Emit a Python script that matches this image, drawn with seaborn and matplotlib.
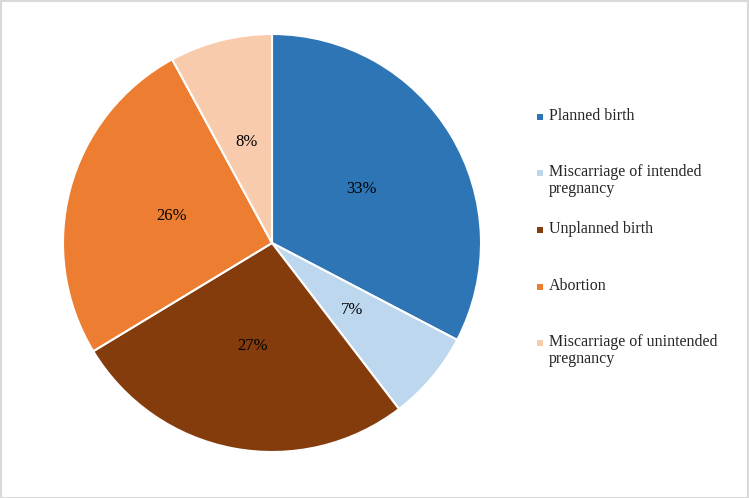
import seaborn as sns
import matplotlib.pyplot as plt
from matplotlib.patches import Rectangle

categories = ['Planned birth', 'Miscarriage of intended\npregnancy', 'Unplanned birth',
              'Abortion', 'Miscarriage of unintended\npregnancy']
shares = [33, 7, 27, 26, 8]
colors = ['#2E75B6', '#BDD7EE', '#843C0C', '#ED7D31', '#F8CBAD']

sns.set_theme(style='white')
plt.rcParams['font.family'] = ['Liberation Serif', 'DejaVu Serif']

W, H = 749, 498
fig = plt.figure(figsize=(W / 100, H / 100), dpi=100)
fig.patch.set_facecolor('white')

# pie centred at (272, 243) px, radius 209 px
cx, cy, r = 272, 243, 209
ax = fig.add_axes([(cx - r) / W, (H - cy - r) / H, 2 * r / W, 2 * r / H])
total = sum(shares)
wedges, texts, autotexts = ax.pie(
    shares, colors=colors, startangle=90, counterclock=False,
    autopct=lambda p: f'{p * total / 100:.0f}%', pctdistance=0.5,
    wedgeprops=dict(edgecolor='white', linewidth=1.5),
    textprops=dict(fontsize=12, color='#000000'))
ax.set_xlim(-1, 1)
ax.set_ylim(-1, 1)
ax.set_aspect('equal')
ax.axis('off')

# legend: marker aligned with first text line, evenly spaced slots
for i, (lab, col) in enumerate(zip(categories, colors)):
    y = 117 + i * 56.5
    fig.patches.append(Rectangle((537 / W, (H - y - 3) / H), 6 / W, 6 / H,
                                 transform=fig.transFigure, facecolor=col,
                                 edgecolor='none'))
    fig.text(549 / W, (H - y + 9) / H, lab, fontsize=11.5, va='top', ha='left',
             linespacing=1.05, transform=fig.transFigure)

# outer grey frame
fig.patches.append(Rectangle((0.5 / W, 0.5 / H), (W - 2) / W, (H - 2) / H,
                             transform=fig.transFigure, fill=False,
                             edgecolor='#D9D9D9', linewidth=1.5))

fig.savefig('out.png', dpi=100, facecolor='white')
